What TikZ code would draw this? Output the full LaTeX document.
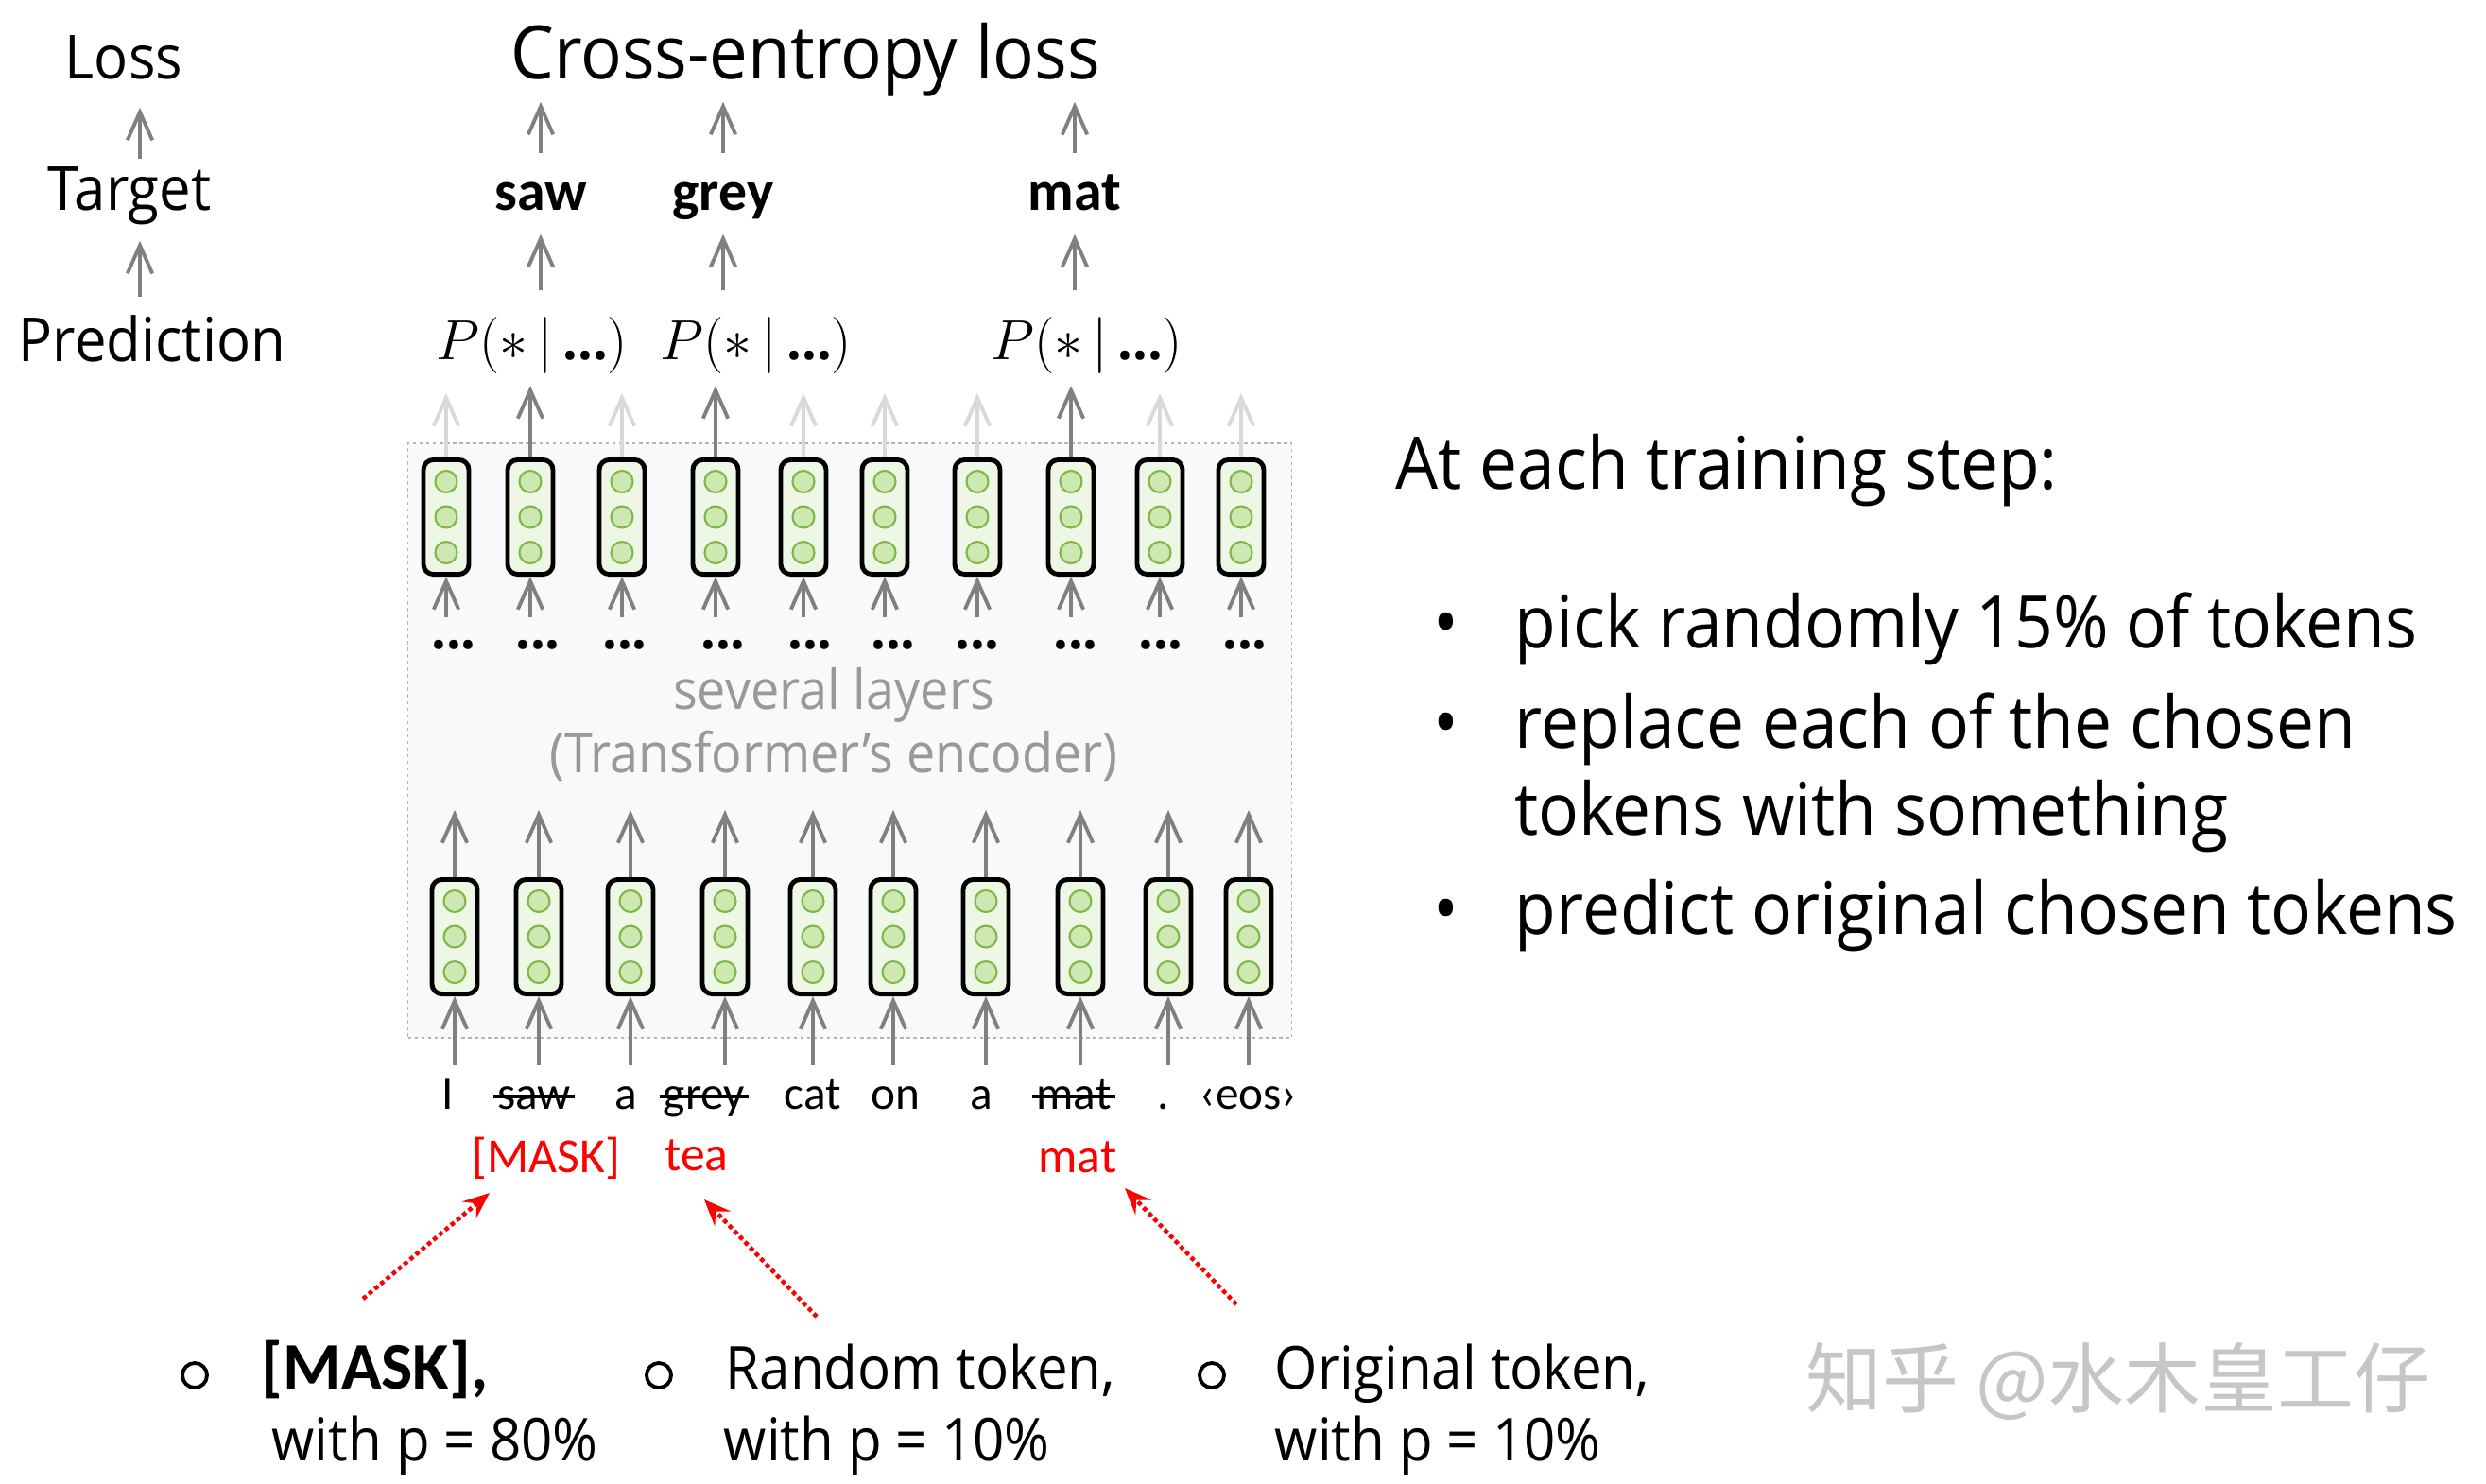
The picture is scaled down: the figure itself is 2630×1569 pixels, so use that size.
\RequirePackage{fix-cm}
\documentclass[tikz,border=0pt]{standalone}
\usepackage{fontspec}
\setmainfont{Open Sans}[FakeStretch=0.93]
\newfontfamily\comic{Carlito}
\newfontfamily\cjk{Noto Sans CJK SC}
\usepackage{tikz}
\usetikzlibrary{arrows.meta,positioning,shapes.geometric}

\definecolor{arrgray}{HTML}{808080}
\definecolor{lightarr}{HTML}{D9D9D9}
\definecolor{cellfill}{HTML}{EEF7E6}
\definecolor{dotfill}{HTML}{CDE8B0}
\definecolor{dotline}{HTML}{7DB848}
\definecolor{encfill}{HTML}{F9F9F9}
\definecolor{encline}{HTML}{B5B5B5}

\newcommand{\pdist}{$P(*\,|\,\mbox{\bfseries...})$}

\begin{document}
\begin{tikzpicture}[x=0.01cm,y=-0.01cm,
            enc/.style={draw=encline,fill=encfill,dash pattern=on 1pt off 1pt,line width=0.4pt,minimum width=9.34cm,minimum height=6.29cm},
            cell/.style={draw,line width=1.4pt,rounded corners=3pt,fill=cellfill,minimum width=0.48cm,minimum height=1.21cm,inner sep=0},
            unit/.style={circle,draw=dotline,fill=dotfill,line width=0.6pt,minimum size=0.23cm,inner sep=0},
            garr/.style={draw=arrgray,line width=1.1pt,-{Straight Barb[length=8.5pt,width=7.5pt]}},
            larr/.style={garr,draw=lightarr},
            redarr/.style={draw=red,line width=1.3pt,dash pattern=on 1.3pt off 1pt,-{Stealth[length=8pt,width=6.5pt,inset=3pt]}},
            strike/.style={draw,line width=1.2pt,shorten <=-1pt,shorten >=-1pt},
            txt/.style={inner sep=0,anchor=base,font=\fontsize{18.3}{22}\selectfont},
            big/.style={txt,font=\fontsize{22.2}{26}\selectfont},
            pp/.style={inner sep=0,anchor=base,font=\fontsize{17}{20}\selectfont,text height=0.72cm},
            word/.style={inner sep=0,anchor=base,font=\comic\bfseries\fontsize{17}{20}\selectfont,text height=0.59cm,text depth=0.25cm},
            tok/.style={inner sep=0,anchor=base,font=\comic\fontsize{14}{17}\selectfont,text height=0.45cm},
            repl/.style={inner sep=0,anchor=base,text=red,font=\comic\fontsize{14.7}{17}\selectfont},
            layer/.style={inner sep=0,anchor=base,text=gray!80,font=\fontsize{16.5}{19}\selectfont},
            side/.style={inner sep=0,anchor=base west,font=\fontsize{21.8}{26}\selectfont},
            opt/.style={inner sep=0,anchor=base west,font=\fontsize{17.8}{21}\selectfont},
            ring/.style={circle,draw,line width=1.1pt,minimum size=0.26cm,inner sep=0},
            dots/.style={inner sep=0,font=\bfseries\fontsize{17}{20}\selectfont}
          ]
          \useasboundingbox (0,0) rectangle (2630,1569);

          %encoder
          \node[enc] (enc) at (899,783.5) {};
          \node[layer] (lay) at (882,750) {several layers};
          \node[layer] (tenc) at (882,817) {(Transformer’s encoder)};

          %left labels
          \node[txt,text depth=0.3cm] (loss) at (131,83) {Loss};
          \node[txt,text height=0.53cm,text depth=0.32cm] (target) at (137,222) {Target};
          \node[txt,text height=0.67cm] (pred) at (161,382) {Prediction};
          \coordinate (lx) at (148,0);
          \draw[garr] (target.north -| lx) -- (loss.south -| lx);
          \draw[garr] (pred.north -| lx) -- (target.south -| lx);

          %loss, targets, predictions
          \node[big,text depth=0.24cm] (ce) at (852,83) {Cross-entropy loss};
          \node[word] (sw) at (572,222) {saw};
          \node[word] (gr) at (765,222) {grey};
          \node[word] (mt) at (1137,222) {mat};
          \node[pp] (p1) at (563,380) {\pdist};
          \node[pp] (p2) at (800,380) {\pdist};
          \node[pp] (p3) at (1150,380) {\pdist};
          \draw[garr] (p1.north -| sw) -- (sw.south);
          \draw[garr] (p2.north -| gr) -- (gr.south);
          \draw[garr] (p3.north -| mt) -- (mt.south);
          \draw[garr] (sw.north) -- (ce.south -| sw);
          \draw[garr] (gr.north) -- (ce.south -| gr);
          \draw[garr] (mt.north) -- (ce.south -| mt);

          %top cells
          \foreach \i/\x/\ty/\st in {1/472/416/larr,2/561/408/garr,3/658/416/larr,4/757/408/garr,5/850/416/larr,
                                    6/936/416/larr,7/1034/416/larr,8/1133/408/garr,9/1227/416/larr,10/1313/416/larr} {
            \node[cell] (t\i) at (\x,547) {};
            \foreach \d in {-1,0,1} \node[unit] at ([yshift=\d*0.375cm]t\i.center) {};
            \coordinate (u\i) at (\x,\ty);
            \coordinate (d\i) at (\x,653);
            \draw[\st] (t\i.north) -- (u\i);
            \draw[garr] (d\i) -- (t\i.south);
          }

          %dots
          \foreach \i/\x in {1/480,2/569,3/661,4/765,5/857,6/945,7/1034,8/1138,9/1228,10/1317}
            \node[dots] (m\i) at (\x,682) {...};

          %bottom cells and tokens
          \foreach \i/\x/\xw/\w in {1/481/474/I,2/570/565/saw,3/667/662/a,4/767/745/grey,5/860/860/cat,
                                   6/945/947/on,7/1043/1038/a,8/1143/1136/mat,9/1236/1231/.,10/1321/1321/‹eos›} {
            \node[cell] (b\i) at (\x,991) {};
            \foreach \d in {-1,0,1} \node[unit] at ([yshift=\d*0.375cm]b\i.center) {};
            \coordinate (c\i) at (\x,857);
            \draw[garr] (b\i.north) -- (c\i);
            \node[tok] (w\i) at (\xw,1173) {\w};
            \draw[garr] (w\i.north -| b\i) -- (b\i.south);
          }
          \foreach \i in {2,4,8}
            \draw[strike] ([yshift=0.13cm]w\i.base west) -- ([yshift=0.13cm]w\i.base east);

          %replacements
          \node[repl] (rmask) at (578,1240) {[MASK]};
          \node[repl] (rtea) at (737,1238) {tea};
          \node[repl] (rmat) at (1140,1240) {mat};

          %options
          \node[ring] (o1) at (206,1455) {};
          \node[opt,font=\comic\bfseries\fontsize{20}{24}\selectfont] (o1a) at (276,1469) {[MASK],};
          \node[opt] (o1b) at (287,1545) {with p = 80\%};
          \node[ring] (o2) at (697,1455) {};
          \node[opt] (o2a) at (767,1469) {Random token,};
          \node[opt] (o2b) at (765,1545) {with p = 10\%};
          \node[ring] (o3) at (1282,1455) {};
          \node[opt] (o3a) at (1348,1469) {Original token,};
          \node[opt] (o3b) at (1348,1545) {with p = 10\%};

          \coordinate (r1) at (384,1374);
          \coordinate (h1) at (518,1262);
          \coordinate (r2) at (864,1393);
          \coordinate (h2) at (745,1269);
          \coordinate (r3) at (1308,1380);
          \coordinate (h3) at (1190,1257);
          \draw[redarr] (r1) -- (h1);
          \draw[redarr] (r2) -- (h2);
          \draw[redarr] (r3) -- (h3);

          %training step
          \node[side] (step) at (1476,517) {At each training step:};
          \node[side,anchor=base] (k1) at (1530,685) {•};
          \node[side] (s1) at (1602,685) {pick randomly 15\% of tokens};
          \node[side,anchor=base] (k2) at (1530,791) {•};
          \node[side] (s2) at (1602,791) {replace each of the chosen};
          \node[side] (s3) at (1602,883) {tokens with something};
          \node[side,anchor=base] (k3) at (1530,988) {•};
          \node[side] (s4) at (1602,988) {predict original chosen tokens};

          %watermark
          \node[font=\cjk\fontsize{23}{26}\selectfont,text=gray!45] (wm) at (2241,1461) {知乎 @水木皇工仔};
      \end{tikzpicture}
\end{document}
